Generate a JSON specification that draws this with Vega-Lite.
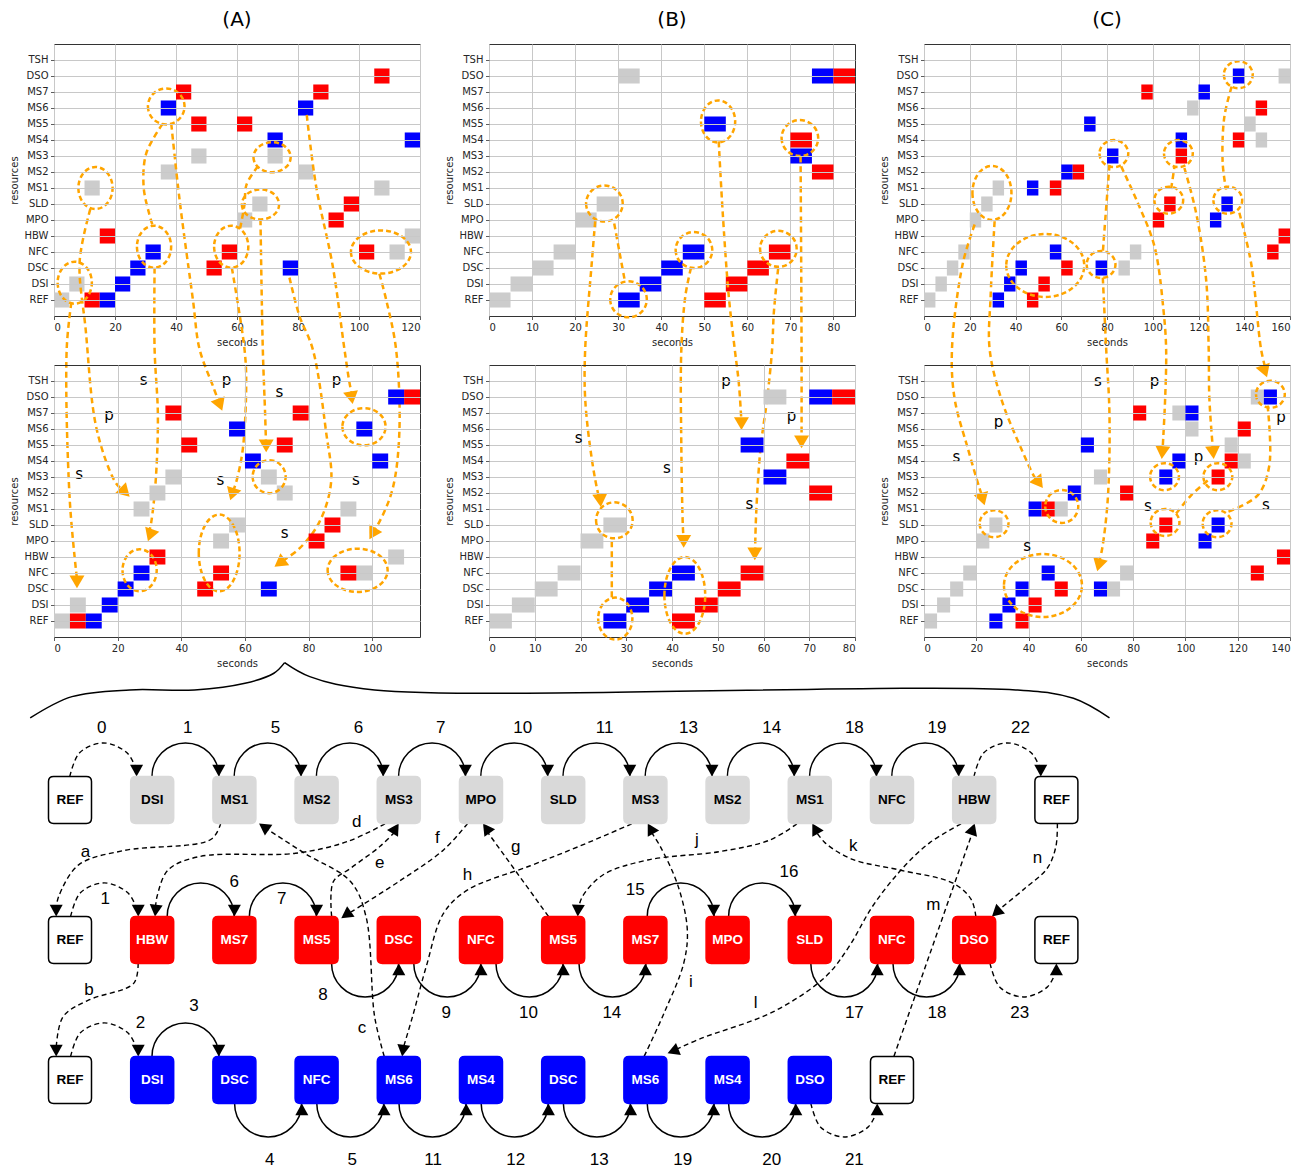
{
"$schema": "https://vega.github.io/schema/vega-lite/v6.json",
"padding": {"left": 8, "top": 9, "right": 5, "bottom": 0},
"background": "white",
"bounds": "flush",
"columns": 3,
"spacing": {"row": 49, "column": 69},
"resolve": {"scale": {"color": "independent", "x": "independent", "y": "independent", "shape": "independent"}},
"config": {
  "view": {"stroke": "#333333", "strokeWidth": 1},
  "axis": {"domain": false, "tickColor": "#333333", "tickSize": 3.5, "tickWidth": 0.8, "labelFont": "DejaVu Sans", "labelFontSize": 10, "labelColor": "#262626", "labelPadding": 2.5, "titleFont": "DejaVu Sans", "titleFontSize": 10, "titleFontWeight": "normal", "titleColor": "#262626", "grid": true, "gridColor": "#c8c8c8", "gridWidth": 1},
  "axisY": {"titlePadding": 5},
  "axisX": {"titlePadding": 5},
  "title": {"font": "DejaVu Sans", "fontSize": 20, "fontWeight": "normal", "color": "#000000", "offset": 14}
},
"datasets": {
"sq": [
{"p":"A1","r":"REF","t0":0,"t1":5,"c":"g"},{"p":"A1","r":"DSI","t0":5,"t1":10,"c":"g"},{"p":"A1","r":"MS1","t0":10,"t1":15,"c":"g"},{"p":"A1","r":"MS2","t0":35,"t1":40,"c":"g"},{"p":"A1","r":"MS3","t0":45,"t1":50,"c":"g"},{"p":"A1","r":"MPO","t0":60,"t1":65,"c":"g"},{"p":"A1","r":"SLD","t0":65,"t1":70,"c":"g"},{"p":"A1","r":"MS3","t0":70,"t1":75,"c":"g"},{"p":"A1","r":"MS2","t0":80,"t1":85,"c":"g"},{"p":"A1","r":"MS1","t0":105,"t1":110,"c":"g"},{"p":"A1","r":"NFC","t0":110,"t1":115,"c":"g"},{"p":"A1","r":"HBW","t0":115,"t1":120,"c":"g"},
{"p":"A1","r":"REF","t0":10,"t1":15,"c":"r"},{"p":"A1","r":"HBW","t0":15,"t1":20,"c":"r"},{"p":"A1","r":"MS7","t0":40,"t1":45,"c":"r"},{"p":"A1","r":"MS5","t0":45,"t1":50,"c":"r"},{"p":"A1","r":"DSC","t0":50,"t1":55,"c":"r"},{"p":"A1","r":"NFC","t0":55,"t1":60,"c":"r"},{"p":"A1","r":"MS5","t0":60,"t1":65,"c":"r"},{"p":"A1","r":"MS7","t0":85,"t1":90,"c":"r"},{"p":"A1","r":"MPO","t0":90,"t1":95,"c":"r"},{"p":"A1","r":"SLD","t0":95,"t1":100,"c":"r"},{"p":"A1","r":"NFC","t0":100,"t1":105,"c":"r"},{"p":"A1","r":"DSO","t0":105,"t1":110,"c":"r"},
{"p":"A1","r":"REF","t0":15,"t1":20,"c":"b"},{"p":"A1","r":"DSI","t0":20,"t1":25,"c":"b"},{"p":"A1","r":"DSC","t0":25,"t1":30,"c":"b"},{"p":"A1","r":"NFC","t0":30,"t1":35,"c":"b"},{"p":"A1","r":"MS6","t0":35,"t1":40,"c":"b"},{"p":"A1","r":"MS4","t0":70,"t1":75,"c":"b"},{"p":"A1","r":"DSC","t0":75,"t1":80,"c":"b"},{"p":"A1","r":"MS6","t0":80,"t1":85,"c":"b"},{"p":"A1","r":"MS4","t0":115,"t1":120,"c":"b"},
{"p":"A2","r":"REF","t0":0,"t1":5,"c":"g"},{"p":"A2","r":"DSI","t0":5,"t1":10,"c":"g"},{"p":"A2","r":"MS1","t0":25,"t1":30,"c":"g"},{"p":"A2","r":"MS2","t0":30,"t1":35,"c":"g"},{"p":"A2","r":"MS3","t0":35,"t1":40,"c":"g"},{"p":"A2","r":"MPO","t0":50,"t1":55,"c":"g"},{"p":"A2","r":"SLD","t0":55,"t1":60,"c":"g"},{"p":"A2","r":"MS3","t0":65,"t1":70,"c":"g"},{"p":"A2","r":"MS2","t0":70,"t1":75,"c":"g"},{"p":"A2","r":"MS1","t0":90,"t1":95,"c":"g"},{"p":"A2","r":"NFC","t0":95,"t1":100,"c":"g"},{"p":"A2","r":"HBW","t0":105,"t1":110,"c":"g"},
{"p":"A2","r":"REF","t0":5,"t1":10,"c":"r"},{"p":"A2","r":"HBW","t0":30,"t1":35,"c":"r"},{"p":"A2","r":"MS7","t0":35,"t1":40,"c":"r"},{"p":"A2","r":"MS5","t0":40,"t1":45,"c":"r"},{"p":"A2","r":"DSC","t0":45,"t1":50,"c":"r"},{"p":"A2","r":"NFC","t0":50,"t1":55,"c":"r"},{"p":"A2","r":"MS5","t0":70,"t1":75,"c":"r"},{"p":"A2","r":"MS7","t0":75,"t1":80,"c":"r"},{"p":"A2","r":"MPO","t0":80,"t1":85,"c":"r"},{"p":"A2","r":"SLD","t0":85,"t1":90,"c":"r"},{"p":"A2","r":"NFC","t0":90,"t1":95,"c":"r"},{"p":"A2","r":"DSO","t0":110,"t1":115,"c":"r"},
{"p":"A2","r":"REF","t0":10,"t1":15,"c":"b"},{"p":"A2","r":"DSI","t0":15,"t1":20,"c":"b"},{"p":"A2","r":"DSC","t0":20,"t1":25,"c":"b"},{"p":"A2","r":"NFC","t0":25,"t1":30,"c":"b"},{"p":"A2","r":"MS6","t0":55,"t1":60,"c":"b"},{"p":"A2","r":"MS4","t0":60,"t1":65,"c":"b"},{"p":"A2","r":"DSC","t0":65,"t1":70,"c":"b"},{"p":"A2","r":"MS6","t0":95,"t1":100,"c":"b"},{"p":"A2","r":"MS4","t0":100,"t1":105,"c":"b"},{"p":"A2","r":"DSO","t0":105,"t1":110,"c":"b"},
{"p":"B1","r":"REF","t0":0,"t1":5,"c":"g"},{"p":"B1","r":"DSI","t0":5,"t1":10,"c":"g"},{"p":"B1","r":"DSC","t0":10,"t1":15,"c":"g"},{"p":"B1","r":"NFC","t0":15,"t1":20,"c":"g"},{"p":"B1","r":"MPO","t0":20,"t1":25,"c":"g"},{"p":"B1","r":"SLD","t0":25,"t1":30,"c":"g"},{"p":"B1","r":"DSO","t0":30,"t1":35,"c":"g"},
{"p":"B1","r":"REF","t0":30,"t1":35,"c":"b"},{"p":"B1","r":"DSI","t0":35,"t1":40,"c":"b"},{"p":"B1","r":"DSC","t0":40,"t1":45,"c":"b"},{"p":"B1","r":"NFC","t0":45,"t1":50,"c":"b"},{"p":"B1","r":"MS5","t0":50,"t1":55,"c":"b"},{"p":"B1","r":"MS3","t0":70,"t1":75,"c":"b"},{"p":"B1","r":"DSO","t0":75,"t1":80,"c":"b"},
{"p":"B1","r":"REF","t0":50,"t1":55,"c":"r"},{"p":"B1","r":"DSI","t0":55,"t1":60,"c":"r"},{"p":"B1","r":"DSC","t0":60,"t1":65,"c":"r"},{"p":"B1","r":"NFC","t0":65,"t1":70,"c":"r"},{"p":"B1","r":"MS4","t0":70,"t1":75,"c":"r"},{"p":"B1","r":"MS2","t0":75,"t1":80,"c":"r"},{"p":"B1","r":"DSO","t0":80,"t1":85,"c":"r"},
{"p":"B2","r":"REF","t0":0,"t1":5,"c":"g"},{"p":"B2","r":"DSI","t0":5,"t1":10,"c":"g"},{"p":"B2","r":"DSC","t0":10,"t1":15,"c":"g"},{"p":"B2","r":"NFC","t0":15,"t1":20,"c":"g"},{"p":"B2","r":"MPO","t0":20,"t1":25,"c":"g"},{"p":"B2","r":"SLD","t0":25,"t1":30,"c":"g"},{"p":"B2","r":"DSO","t0":60,"t1":65,"c":"g"},
{"p":"B2","r":"REF","t0":25,"t1":30,"c":"b"},{"p":"B2","r":"DSI","t0":30,"t1":35,"c":"b"},{"p":"B2","r":"DSC","t0":35,"t1":40,"c":"b"},{"p":"B2","r":"NFC","t0":40,"t1":45,"c":"b"},{"p":"B2","r":"MS5","t0":55,"t1":60,"c":"b"},{"p":"B2","r":"MS3","t0":60,"t1":65,"c":"b"},{"p":"B2","r":"DSO","t0":70,"t1":75,"c":"b"},
{"p":"B2","r":"REF","t0":40,"t1":45,"c":"r"},{"p":"B2","r":"DSI","t0":45,"t1":50,"c":"r"},{"p":"B2","r":"DSC","t0":50,"t1":55,"c":"r"},{"p":"B2","r":"NFC","t0":55,"t1":60,"c":"r"},{"p":"B2","r":"MS4","t0":65,"t1":70,"c":"r"},{"p":"B2","r":"MS2","t0":70,"t1":75,"c":"r"},{"p":"B2","r":"DSO","t0":75,"t1":80,"c":"r"},
{"p":"C1","r":"REF","t0":0,"t1":5,"c":"g"},{"p":"C1","r":"DSI","t0":5,"t1":10,"c":"g"},{"p":"C1","r":"DSC","t0":10,"t1":15,"c":"g"},{"p":"C1","r":"NFC","t0":15,"t1":20,"c":"g"},{"p":"C1","r":"MPO","t0":20,"t1":25,"c":"g"},{"p":"C1","r":"SLD","t0":25,"t1":30,"c":"g"},{"p":"C1","r":"MS1","t0":30,"t1":35,"c":"g"},{"p":"C1","r":"DSC","t0":85,"t1":90,"c":"g"},{"p":"C1","r":"NFC","t0":90,"t1":95,"c":"g"},{"p":"C1","r":"MS6","t0":115,"t1":120,"c":"g"},{"p":"C1","r":"MS5","t0":140,"t1":145,"c":"g"},{"p":"C1","r":"MS4","t0":145,"t1":150,"c":"g"},{"p":"C1","r":"DSO","t0":155,"t1":160,"c":"g"},
{"p":"C1","r":"REF","t0":30,"t1":35,"c":"b"},{"p":"C1","r":"DSI","t0":35,"t1":40,"c":"b"},{"p":"C1","r":"DSC","t0":40,"t1":45,"c":"b"},{"p":"C1","r":"MS1","t0":45,"t1":50,"c":"b"},{"p":"C1","r":"NFC","t0":55,"t1":60,"c":"b"},{"p":"C1","r":"MS2","t0":60,"t1":65,"c":"b"},{"p":"C1","r":"MS5","t0":70,"t1":75,"c":"b"},{"p":"C1","r":"DSC","t0":75,"t1":80,"c":"b"},{"p":"C1","r":"MS3","t0":80,"t1":85,"c":"b"},{"p":"C1","r":"MS4","t0":110,"t1":115,"c":"b"},{"p":"C1","r":"MS7","t0":120,"t1":125,"c":"b"},{"p":"C1","r":"MPO","t0":125,"t1":130,"c":"b"},{"p":"C1","r":"SLD","t0":130,"t1":135,"c":"b"},{"p":"C1","r":"DSO","t0":135,"t1":140,"c":"b"},
{"p":"C1","r":"REF","t0":45,"t1":50,"c":"r"},{"p":"C1","r":"DSI","t0":50,"t1":55,"c":"r"},{"p":"C1","r":"MS1","t0":55,"t1":60,"c":"r"},{"p":"C1","r":"DSC","t0":60,"t1":65,"c":"r"},{"p":"C1","r":"MS2","t0":65,"t1":70,"c":"r"},{"p":"C1","r":"MS7","t0":95,"t1":100,"c":"r"},{"p":"C1","r":"MPO","t0":100,"t1":105,"c":"r"},{"p":"C1","r":"SLD","t0":105,"t1":110,"c":"r"},{"p":"C1","r":"MS3","t0":110,"t1":115,"c":"r"},{"p":"C1","r":"MS4","t0":135,"t1":140,"c":"r"},{"p":"C1","r":"MS6","t0":145,"t1":150,"c":"r"},{"p":"C1","r":"NFC","t0":150,"t1":155,"c":"r"},{"p":"C1","r":"HBW","t0":155,"t1":160,"c":"r"},
{"p":"C2","r":"REF","t0":0,"t1":5,"c":"g"},{"p":"C2","r":"DSI","t0":5,"t1":10,"c":"g"},{"p":"C2","r":"DSC","t0":10,"t1":15,"c":"g"},{"p":"C2","r":"NFC","t0":15,"t1":20,"c":"g"},{"p":"C2","r":"MPO","t0":20,"t1":25,"c":"g"},{"p":"C2","r":"SLD","t0":25,"t1":30,"c":"g"},{"p":"C2","r":"MS1","t0":50,"t1":55,"c":"g"},{"p":"C2","r":"MS3","t0":65,"t1":70,"c":"g"},{"p":"C2","r":"DSC","t0":70,"t1":75,"c":"g"},{"p":"C2","r":"NFC","t0":75,"t1":80,"c":"g"},{"p":"C2","r":"MS7","t0":95,"t1":100,"c":"g"},{"p":"C2","r":"MS6","t0":100,"t1":105,"c":"g"},{"p":"C2","r":"MS5","t0":115,"t1":120,"c":"g"},{"p":"C2","r":"MS4","t0":120,"t1":125,"c":"g"},{"p":"C2","r":"DSO","t0":125,"t1":130,"c":"g"},
{"p":"C2","r":"REF","t0":25,"t1":30,"c":"b"},{"p":"C2","r":"DSI","t0":30,"t1":35,"c":"b"},{"p":"C2","r":"DSC","t0":35,"t1":40,"c":"b"},{"p":"C2","r":"MS1","t0":40,"t1":45,"c":"b"},{"p":"C2","r":"NFC","t0":45,"t1":50,"c":"b"},{"p":"C2","r":"MS2","t0":55,"t1":60,"c":"b"},{"p":"C2","r":"MS5","t0":60,"t1":65,"c":"b"},{"p":"C2","r":"DSC","t0":65,"t1":70,"c":"b"},{"p":"C2","r":"MS3","t0":90,"t1":95,"c":"b"},{"p":"C2","r":"MS4","t0":95,"t1":100,"c":"b"},{"p":"C2","r":"MS7","t0":100,"t1":105,"c":"b"},{"p":"C2","r":"MPO","t0":105,"t1":110,"c":"b"},{"p":"C2","r":"SLD","t0":110,"t1":115,"c":"b"},{"p":"C2","r":"DSO","t0":130,"t1":135,"c":"b"},
{"p":"C2","r":"REF","t0":35,"t1":40,"c":"r"},{"p":"C2","r":"DSI","t0":40,"t1":45,"c":"r"},{"p":"C2","r":"MS1","t0":45,"t1":50,"c":"r"},{"p":"C2","r":"DSC","t0":50,"t1":55,"c":"r"},{"p":"C2","r":"MS2","t0":75,"t1":80,"c":"r"},{"p":"C2","r":"MS7","t0":80,"t1":85,"c":"r"},{"p":"C2","r":"MPO","t0":85,"t1":90,"c":"r"},{"p":"C2","r":"SLD","t0":90,"t1":95,"c":"r"},{"p":"C2","r":"MS3","t0":110,"t1":115,"c":"r"},{"p":"C2","r":"MS4","t0":115,"t1":120,"c":"r"},{"p":"C2","r":"MS6","t0":120,"t1":125,"c":"r"},{"p":"C2","r":"NFC","t0":125,"t1":130,"c":"r"},{"p":"C2","r":"HBW","t0":135,"t1":140,"c":"r"}
],
"ell": [
{"p":"A1","x":6.8,"y":1.08,"k":"t"},{"p":"A1","x":13.6,"y":7.0,"k":"t"},{"p":"A1","x":36.8,"y":12.1,"k":"o"},{"p":"A1","x":32.8,"y":3.33,"k":"t"},{"p":"A1","x":58.1,"y":3.33,"k":"t"},{"p":"A1","x":67.7,"y":5.97,"k":"f"},{"p":"A1","x":71.5,"y":8.92,"k":"f"},{"p":"A1","x":107.2,"y":3.0,"k":"w"},
{"p":"A2","x":26.9,"y":3.17,"k":"t"},{"p":"A2","x":51.9,"y":4.25,"k":"T"},{"p":"A2","x":67.6,"y":9.02,"k":"s"},{"p":"A2","x":97.4,"y":12.14,"k":"O"},{"p":"A2","x":95.4,"y":3.17,"k":"w"},
{"p":"B1","x":26.8,"y":6.03,"k":"o"},{"p":"B1","x":32.4,"y":0.04,"k":"o"},{"p":"B1","x":47.6,"y":3.12,"k":"o"},{"p":"B1","x":53.2,"y":11.16,"k":"t"},{"p":"B1","x":67.2,"y":3.2,"k":"o"},{"p":"B1","x":72.2,"y":10.12,"k":"o"},
{"p":"B2","x":27.4,"y":6.29,"k":"o"},{"p":"B2","x":27.6,"y":0.15,"k":"t"},{"p":"B2","x":42.8,"y":1.6,"k":"T"},
{"p":"C1","x":29.7,"y":6.69,"k":"m"},{"p":"C1","x":53.0,"y":2.16,"k":"B"},{"p":"C1","x":77.4,"y":2.22,"k":"c"},{"p":"C1","x":83.0,"y":9.15,"k":"c"},{"p":"C1","x":111.2,"y":9.15,"k":"c"},{"p":"C1","x":107.0,"y":6.24,"k":"c"},{"p":"C1","x":132.8,"y":6.24,"k":"c"},{"p":"C1","x":137.4,"y":14.08,"k":"c"},
{"p":"C2","x":26.8,"y":6.08,"k":"c"},{"p":"C2","x":52.7,"y":7.16,"k":"s"},{"p":"C2","x":45.5,"y":2.22,"k":"B"},{"p":"C2","x":92.0,"y":9.02,"k":"c"},{"p":"C2","x":112.4,"y":9.02,"k":"c"},{"p":"C2","x":92.2,"y":6.16,"k":"c"},{"p":"C2","x":112.1,"y":6.08,"k":"c"},{"p":"C2","x":132.5,"y":14.17,"k":"c"}
],
"lab": [
{"p":"A2","x":28.2,"y":15.04,"t":"s"},{"p":"A2","x":54.2,"y":15.04,"t":"p"},{"p":"A2","x":70.8,"y":14.3,"t":"s"},{"p":"A2","x":88.8,"y":15.04,"t":"p"},{"p":"A2","x":17.3,"y":12.86,"t":"p"},{"p":"A2","x":7.9,"y":9.19,"t":"s"},{"p":"A2","x":52.3,"y":8.82,"t":"s"},{"p":"A2","x":94.9,"y":8.82,"t":"s"},{"p":"A2","x":72.5,"y":5.5,"t":"s"},
{"p":"B2","x":19.6,"y":11.41,"t":"s"},{"p":"B2","x":38.9,"y":9.54,"t":"s"},{"p":"B2","x":51.8,"y":15.0,"t":"p"},{"p":"B2","x":66.1,"y":12.8,"t":"p"},{"p":"B2","x":56.9,"y":7.32,"t":"s"},
{"p":"C2","x":66.5,"y":15.0,"t":"s"},{"p":"C2","x":88.2,"y":15.0,"t":"p"},{"p":"C2","x":28.5,"y":12.45,"t":"p"},{"p":"C2","x":12.4,"y":10.27,"t":"s"},{"p":"C2","x":105.0,"y":10.23,"t":"p"},{"p":"C2","x":136.6,"y":12.76,"t":"p"},{"p":"C2","x":85.6,"y":7.2,"t":"s"},{"p":"C2","x":130.8,"y":7.26,"t":"s"},{"p":"C2","x":39.5,"y":4.71,"t":"s"}
],
"ol": [
{"p":"A1","id":"L1","o":1,"x":5.70,"y":-0.14},{"p":"A1","id":"L1","o":2,"x":4.16,"y":-3.07},{"p":"A1","id":"L1","o":3,"x":5.14,"y":-12.42},{"p":"A1","id":"L1","o":4,"x":7.44,"y":-17.28},
{"p":"A1","id":"L2","o":1,"x":11.92,"y":5.69},{"p":"A1","id":"L2","o":2,"x":8.42,"y":2.41},{"p":"A1","id":"L2","o":3,"x":10.38,"y":-1.83},{"p":"A1","id":"L2","o":4,"x":13.99,"y":-8.08},{"p":"A1","id":"L2","o":5,"x":20.21,"y":-11.42},{"p":"A1","id":"L2","o":6,"x":22.7,"y":-11.9},
{"p":"A1","id":"L3","o":1,"x":32.98,"y":2.02},{"p":"A1","id":"L3","o":2,"x":32.98,"y":-3.07},{"p":"A1","id":"L3","o":3,"x":34.06,"y":-7.23},{"p":"A1","id":"L3","o":4,"x":33.31,"y":-11.38},{"p":"A1","id":"L3","o":5,"x":31.9,"y":-13.87},{"p":"A1","id":"L3","o":6,"x":31.2,"y":-14.5},
{"p":"A1","id":"L4","o":1,"x":38.45,"y":11.01},{"p":"A1","id":"L4","o":2,"x":41.17,"y":6.27},{"p":"A1","id":"L4","o":3,"x":45.53,"y":0.04},{"p":"A1","id":"L4","o":4,"x":47.72,"y":-3.07},{"p":"A1","id":"L4","o":5,"x":52.08,"y":-5.36},{"p":"A1","id":"L4","o":6,"x":54.1,"y":-6.4},
{"p":"A1","id":"L5","o":1,"x":58.3,"y":2.02},{"p":"A1","id":"L5","o":2,"x":62.46,"y":-3.07},{"p":"A1","id":"L5","o":3,"x":63.02,"y":-5.15},{"p":"A1","id":"L5","o":4,"x":61.91,"y":-9.3},{"p":"A1","id":"L5","o":5,"x":59.74,"y":-11.38},{"p":"A1","id":"L5","o":6,"x":58.6,"y":-12.0},
{"p":"A1","id":"L6","o":1,"x":67.7,"y":5.03},{"p":"A1","id":"L6","o":2,"x":68.46,"y":-3.07},{"p":"A1","id":"L6","o":3,"x":69.24,"y":-7.23},{"p":"A1","id":"L6","o":4,"x":69.5,"y":-8.95},
{"p":"A1","id":"L7","o":1,"x":77.2,"y":1.4},{"p":"A1","id":"L7","o":2,"x":80.48,"y":-1.0},{"p":"A1","id":"L7","o":3,"x":84.83,"y":-3.07},{"p":"A1","id":"L7","o":4,"x":89.22,"y":-8.26},{"p":"A1","id":"L7","o":5,"x":90.86,"y":-11.38},{"p":"A1","id":"L7","o":6,"x":87.03,"y":-13.87},{"p":"A1","id":"L7","o":7,"x":80.48,"y":-15.53},{"p":"A1","id":"L7","o":8,"x":74.5,"y":-16.35},
{"p":"A1","id":"L8","o":1,"x":82.87,"y":11.57},{"p":"A1","id":"L8","o":2,"x":85.95,"y":7.1},{"p":"A1","id":"L8","o":3,"x":91.39,"y":2.12},{"p":"A1","id":"L8","o":4,"x":95.22,"y":-3.07},{"p":"A1","id":"L8","o":5,"x":96.86,"y":-5.15},{"p":"A1","id":"L8","o":6,"x":97.7,"y":-5.95},
{"p":"A1","id":"L9","o":1,"x":106.68,"y":1.64},{"p":"A1","id":"L9","o":2,"x":108.88,"y":0.04},{"p":"A1","id":"L9","o":3,"x":112.15,"y":-3.07},{"p":"A1","id":"L9","o":4,"x":113.23,"y":-8.26},{"p":"A1","id":"L9","o":5,"x":111.04,"y":-11.79},{"p":"A1","id":"L9","o":6,"x":106.68,"y":-13.87},{"p":"A1","id":"L9","o":7,"x":104.5,"y":-14.5},
{"p":"A1","id":"C1","o":1,"x":35.6,"y":11.01},{"p":"A1","id":"C1","o":2,"x":30.27,"y":9.18},{"p":"A1","id":"C1","o":3,"x":29.38,"y":7.1},{"p":"A1","id":"C1","o":4,"x":31.12,"y":5.45},{"p":"A1","id":"C1","o":5,"x":32.43,"y":4.61},
{"p":"A1","id":"C2","o":1,"x":66.82,"y":8.35},{"p":"A1","id":"C2","o":2,"x":63.12,"y":7.21},{"p":"A1","id":"C2","o":3,"x":62.46,"y":5.96},{"p":"A1","id":"C2","o":4,"x":60.82,"y":4.28},
{"p":"B1","id":"LB1","o":1,"x":24.66,"y":4.92},{"p":"B1","id":"LB1","o":2,"x":23.87,"y":2.33},{"p":"B1","id":"LB1","o":3,"x":22.34,"y":-3.07},{"p":"B1","id":"LB1","o":4,"x":22.34,"y":-6.19},{"p":"B1","id":"LB1","o":5,"x":23.87,"y":-9.93},{"p":"B1","id":"LB1","o":6,"x":25.43,"y":-12.21},{"p":"B1","id":"LB1","o":7,"x":25.8,"y":-12.5},
{"p":"B1","id":"LB2","o":1,"x":46.91,"y":2.02},{"p":"B1","id":"LB2","o":2,"x":45.6,"y":0.25},{"p":"B1","id":"LB2","o":3,"x":44.67,"y":-3.07},{"p":"B1","id":"LB2","o":4,"x":44.67,"y":-9.3},{"p":"B1","id":"LB2","o":5,"x":45.04,"y":-14.29},{"p":"B1","id":"LB2","o":6,"x":45.2,"y":-14.9},
{"p":"B1","id":"LB3","o":1,"x":53.35,"y":9.91},{"p":"B1","id":"LB3","o":2,"x":54.28,"y":5.45},{"p":"B1","id":"LB3","o":3,"x":55.68,"y":0.25},{"p":"B1","id":"LB3","o":4,"x":57.07,"y":-3.07},{"p":"B1","id":"LB3","o":5,"x":58.0,"y":-5.15},{"p":"B1","id":"LB3","o":6,"x":58.54,"y":-7.23},{"p":"B1","id":"LB3","o":7,"x":58.6,"y":-7.55},
{"p":"B1","id":"LB4","o":1,"x":67.15,"y":1.96},{"p":"B1","id":"LB4","o":2,"x":66.15,"y":-0.79},{"p":"B1","id":"LB4","o":3,"x":65.75,"y":-3.07},{"p":"B1","id":"LB4","o":4,"x":64.59,"y":-6.19},{"p":"B1","id":"LB4","o":5,"x":63.05,"y":-9.3},{"p":"B1","id":"LB4","o":6,"x":62.03,"y":-13.46},{"p":"B1","id":"LB4","o":7,"x":61.8,"y":-15.7},
{"p":"B1","id":"LB5","o":1,"x":72.36,"y":8.97},{"p":"B1","id":"LB5","o":2,"x":72.59,"y":-3.07},{"p":"B1","id":"LB5","o":3,"x":72.59,"y":-8.7},
{"p":"B1","id":"CB1","o":1,"x":29.08,"y":4.78},{"p":"B1","id":"CB1","o":2,"x":30.48,"y":2.74},{"p":"B1","id":"CB1","o":3,"x":31.48,"y":1.29},
{"p":"B1","id":"CB2","o":1,"x":28.52,"y":-15.08},{"p":"B1","id":"CB2","o":2,"x":28.52,"y":-18.65},
{"p":"C1","id":"LC1","o":1,"x":22.14,"y":4.72},{"p":"C1","id":"LC1","o":2,"x":17.03,"y":2.33},{"p":"C1","id":"LC1","o":3,"x":12.23,"y":-3.07},{"p":"C1","id":"LC1","o":4,"x":13.41,"y":-6.19},{"p":"C1","id":"LC1","o":5,"x":19.21,"y":-9.3},{"p":"C1","id":"LC1","o":6,"x":24.32,"y":-11.79},{"p":"C1","id":"LC1","o":7,"x":25.7,"y":-12.35},
{"p":"C1","id":"LC2","o":1,"x":30.87,"y":4.92},{"p":"C1","id":"LC2","o":2,"x":29.13,"y":0.25},{"p":"C1","id":"LC2","o":3,"x":28.69,"y":-3.07},{"p":"C1","id":"LC2","o":4,"x":33.8,"y":-6.19},{"p":"C1","id":"LC2","o":5,"x":42.53,"y":-9.3},{"p":"C1","id":"LC2","o":6,"x":48.34,"y":-11.07},{"p":"C1","id":"LC2","o":7,"x":49.6,"y":-11.3},
{"p":"C1","id":"LC3","o":1,"x":78.17,"y":1.4},{"p":"C1","id":"LC3","o":2,"x":79.65,"y":-3.07},{"p":"C1","id":"LC3","o":3,"x":81.09,"y":-7.23},{"p":"C1","id":"LC3","o":4,"x":80.35,"y":-12.42},{"p":"C1","id":"LC3","o":5,"x":77.9,"y":-15.53},{"p":"C1","id":"LC3","o":6,"x":76.5,"y":-16.4},
{"p":"C1","id":"LC4","o":1,"x":86.2,"y":8.35},{"p":"C1","id":"LC4","o":2,"x":93.45,"y":6.07},{"p":"C1","id":"LC4","o":3,"x":100.74,"y":3.36},{"p":"C1","id":"LC4","o":4,"x":104.8,"y":-0.79},{"p":"C1","id":"LC4","o":5,"x":105.85,"y":-3.07},{"p":"C1","id":"LC4","o":6,"x":105.41,"y":-6.19},{"p":"C1","id":"LC4","o":7,"x":104.3,"y":-9.35},
{"p":"C1","id":"LC5","o":1,"x":113.84,"y":8.25},{"p":"C1","id":"LC5","o":2,"x":118.95,"y":5.45},{"p":"C1","id":"LC5","o":3,"x":123.32,"y":1.29},{"p":"C1","id":"LC5","o":4,"x":124.45,"y":-3.07},{"p":"C1","id":"LC5","o":5,"x":124.76,"y":-6.19},{"p":"C1","id":"LC5","o":6,"x":126.3,"y":-9.35},
{"p":"C1","id":"LC6","o":1,"x":137.86,"y":5.45},{"p":"C1","id":"LC6","o":2,"x":142.97,"y":2.33},{"p":"C1","id":"LC6","o":3,"x":147.34,"y":-3.07},{"p":"C1","id":"LC6","o":4,"x":149.3,"y":-4.3},
{"p":"C1","id":"CC1","o":1,"x":81.09,"y":8.45},{"p":"C1","id":"CC1","o":2,"x":78.91,"y":4.4},{"p":"C1","id":"CC1","o":3,"x":78.17,"y":2.95},
{"p":"C1","id":"CC2","o":1,"x":108.03,"y":6.94},{"p":"C1","id":"CC2","o":2,"x":109.48,"y":8.31},
{"p":"C1","id":"CC3","o":1,"x":134.5,"y":13.33},{"p":"C1","id":"CC3","o":2,"x":131.31,"y":11.46},{"p":"C1","id":"CC3","o":3,"x":130.57,"y":8.56},{"p":"C1","id":"CC3","o":4,"x":132.05,"y":6.9},
{"p":"C1","id":"CC4","o":1,"x":150.22,"y":-6.6},{"p":"C1","id":"CC4","o":2,"x":150.96,"y":-10.34},{"p":"C1","id":"CC4","o":3,"x":145.85,"y":-12.21},{"p":"C1","id":"CC4","o":4,"x":132.75,"y":-13.25},
{"p":"C1","id":"CC5","o":1,"x":124.02,"y":-11.28},{"p":"C1","id":"CC5","o":2,"x":116.77,"y":-12.21},{"p":"C1","id":"CC5","o":3,"x":110.22,"y":-13.35}
],
"oh": [
{"p":"A1","x":7.53,"y":-18.02,"a":180},{"p":"A1","x":24.8,"y":-12.29,"a":135},{"p":"A1","x":30.79,"y":-15.08,"a":200},{"p":"A1","x":55.16,"y":-6.92,"a":159},{"p":"A1","x":57.78,"y":-12.52,"a":198},{"p":"A1","x":69.57,"y":-9.51,"a":180},{"p":"A1","x":72.29,"y":-16.67,"a":234},{"p":"A1","x":97.94,"y":-6.5,"a":170},{"p":"A1","x":103.41,"y":-14.95,"a":210},
{"p":"B1","x":25.97,"y":-12.93,"a":175},{"p":"B1","x":45.21,"y":-15.49,"a":180},{"p":"B1","x":58.63,"y":-8.12,"a":180},{"p":"B1","x":61.73,"y":-16.26,"a":180},{"p":"B1","x":72.59,"y":-9.26,"a":180},
{"p":"C1","x":26.51,"y":-12.83,"a":163},{"p":"C1","x":51.97,"y":-11.75,"a":143},{"p":"C1","x":75.72,"y":-16.95,"a":195},{"p":"C1","x":103.93,"y":-9.93,"a":185},{"p":"C1","x":126.64,"y":-9.93,"a":175},{"p":"C1","x":149.96,"y":-4.83,"a":160}
],
"nodes": [
{"x":0,"y":0,"t":"w","n":"REF"},{"x":1,"y":0,"t":"g","n":"DSI"},{"x":2,"y":0,"t":"g","n":"MS1"},{"x":3,"y":0,"t":"g","n":"MS2"},{"x":4,"y":0,"t":"g","n":"MS3"},{"x":5,"y":0,"t":"g","n":"MPO"},{"x":6,"y":0,"t":"g","n":"SLD"},{"x":7,"y":0,"t":"g","n":"MS3"},{"x":8,"y":0,"t":"g","n":"MS2"},{"x":9,"y":0,"t":"g","n":"MS1"},{"x":10,"y":0,"t":"g","n":"NFC"},{"x":11,"y":0,"t":"g","n":"HBW"},{"x":12,"y":0,"t":"w","n":"REF"},
{"x":0,"y":1,"t":"w","n":"REF"},{"x":1,"y":1,"t":"r","n":"HBW"},{"x":2,"y":1,"t":"r","n":"MS7"},{"x":3,"y":1,"t":"r","n":"MS5"},{"x":4,"y":1,"t":"r","n":"DSC"},{"x":5,"y":1,"t":"r","n":"NFC"},{"x":6,"y":1,"t":"r","n":"MS5"},{"x":7,"y":1,"t":"r","n":"MS7"},{"x":8,"y":1,"t":"r","n":"MPO"},{"x":9,"y":1,"t":"r","n":"SLD"},{"x":10,"y":1,"t":"r","n":"NFC"},{"x":11,"y":1,"t":"r","n":"DSO"},{"x":12,"y":1,"t":"w","n":"REF"},
{"x":0,"y":2,"t":"w","n":"REF"},{"x":1,"y":2,"t":"b","n":"DSI"},{"x":2,"y":2,"t":"b","n":"DSC"},{"x":3,"y":2,"t":"b","n":"NFC"},{"x":4,"y":2,"t":"b","n":"MS6"},{"x":5,"y":2,"t":"b","n":"MS4"},{"x":6,"y":2,"t":"b","n":"DSC"},{"x":7,"y":2,"t":"b","n":"MS6"},{"x":8,"y":2,"t":"b","n":"MS4"},{"x":9,"y":2,"t":"b","n":"DSO"},{"x":10,"y":2,"t":"w","n":"REF"}
],
"arcs": [
{"x":1.405,"y":-0.168,"s":"u"},{"x":2.405,"y":-0.168,"s":"u"},{"x":3.405,"y":-0.168,"s":"u"},{"x":4.405,"y":-0.168,"s":"u"},{"x":5.405,"y":-0.168,"s":"u"},{"x":6.405,"y":-0.168,"s":"u"},{"x":7.405,"y":-0.168,"s":"u"},{"x":8.405,"y":-0.168,"s":"u"},{"x":9.405,"y":-0.168,"s":"u"},{"x":10.405,"y":-0.168,"s":"u"},
{"x":1.59,"y":0.832,"s":"u"},{"x":2.59,"y":0.832,"s":"u"},{"x":3.59,"y":1.168,"s":"n"},{"x":4.59,"y":1.168,"s":"n"},{"x":5.59,"y":1.168,"s":"n"},{"x":6.6,"y":1.168,"s":"n"},{"x":7.43,"y":0.832,"s":"u"},{"x":8.42,"y":0.832,"s":"u"},{"x":9.42,"y":1.168,"s":"n"},{"x":10.42,"y":1.168,"s":"n"},
{"x":1.405,"y":1.832,"s":"u"},{"x":2.41,"y":2.168,"s":"n"},{"x":3.41,"y":2.168,"s":"n"},{"x":4.41,"y":2.168,"s":"n"},{"x":5.41,"y":2.168,"s":"n"},{"x":6.41,"y":2.168,"s":"n"},{"x":7.43,"y":2.168,"s":"n"},{"x":8.42,"y":2.168,"s":"n"}
],
"heads": [
{"x":0.81,"y":-0.168,"a":180},{"x":1.81,"y":-0.168,"a":180},{"x":2.81,"y":-0.168,"a":180},{"x":3.81,"y":-0.168,"a":180},{"x":4.81,"y":-0.168,"a":180},{"x":5.81,"y":-0.168,"a":180},{"x":6.81,"y":-0.168,"a":180},{"x":7.81,"y":-0.168,"a":180},{"x":8.81,"y":-0.168,"a":180},{"x":9.81,"y":-0.168,"a":180},{"x":10.81,"y":-0.168,"a":180},{"x":11.81,"y":-0.168,"a":180},
{"x":0.83,"y":0.832,"a":180},{"x":2.0,"y":0.832,"a":180},{"x":3.0,"y":0.832,"a":180},{"x":4.0,"y":1.168,"a":0},{"x":5.0,"y":1.168,"a":0},{"x":6.0,"y":1.168,"a":0},{"x":7.0,"y":1.168,"a":0},{"x":7.83,"y":0.832,"a":180},{"x":8.82,"y":0.832,"a":180},{"x":9.82,"y":1.168,"a":0},{"x":10.82,"y":1.168,"a":0},{"x":12.0,"y":1.168,"a":0},
{"x":0.83,"y":1.832,"a":180},{"x":1.81,"y":1.832,"a":180},{"x":2.82,"y":2.168,"a":0},{"x":3.82,"y":2.168,"a":0},{"x":4.82,"y":2.168,"a":0},{"x":5.82,"y":2.168,"a":0},{"x":6.82,"y":2.168,"a":0},{"x":7.83,"y":2.168,"a":0},{"x":8.83,"y":2.168,"a":0},{"x":9.82,"y":2.168,"a":0},
{"x":-0.168,"y":0.832,"a":180},{"x":-0.168,"y":1.832,"a":180},{"x":2.3,"y":0.168,"a":-55},{"x":1.034,"y":0.832,"a":186},{"x":3.999,"y":0.168,"a":32},{"x":3.3,"y":0.845,"a":-125},{"x":5.025,"y":0.168,"a":-35},{"x":4.041,"y":1.832,"a":188},{"x":7.029,"y":0.168,"a":-29},{"x":6.177,"y":0.832,"a":183},{"x":9.031,"y":0.168,"a":-29},{"x":7.27,"y":1.81,"a":-112},{"x":11.006,"y":0.168,"a":19},{"x":11.216,"y":0.832,"a":-132}
],
"elab": [
{"x":0.385,"y":-0.512,"t":"0"},{"x":1.432,"y":-0.512,"t":"1"},{"x":2.5,"y":-0.512,"t":"5"},{"x":3.509,"y":-0.512,"t":"6"},{"x":4.51,"y":-0.512,"t":"7"},{"x":5.507,"y":-0.512,"t":"10"},{"x":6.505,"y":-0.512,"t":"11"},{"x":7.523,"y":-0.512,"t":"13"},{"x":8.537,"y":-0.512,"t":"14"},{"x":9.542,"y":-0.512,"t":"18"},{"x":10.547,"y":-0.512,"t":"19"},{"x":11.562,"y":-0.512,"t":"22"},
{"x":0.43,"y":0.707,"t":"1"},{"x":1.997,"y":0.583,"t":"6"},{"x":2.575,"y":0.707,"t":"7"},{"x":3.078,"y":1.393,"t":"8"},{"x":4.577,"y":1.524,"t":"9"},{"x":5.578,"y":1.524,"t":"10"},{"x":6.592,"y":1.524,"t":"14"},{"x":6.876,"y":0.643,"t":"15"},{"x":8.747,"y":0.517,"t":"16"},{"x":9.542,"y":1.524,"t":"17"},{"x":10.547,"y":1.524,"t":"18"},{"x":11.553,"y":1.524,"t":"23"},
{"x":0.858,"y":1.59,"t":"2"},{"x":1.508,"y":1.471,"t":"3"},{"x":2.429,"y":2.571,"t":"4"},{"x":3.434,"y":2.571,"t":"5"},{"x":4.418,"y":2.571,"t":"11"},{"x":5.423,"y":2.571,"t":"12"},{"x":6.439,"y":2.571,"t":"13"},{"x":7.453,"y":2.571,"t":"19"},{"x":8.537,"y":2.571,"t":"20"},{"x":9.542,"y":2.571,"t":"21"},
{"x":0.188,"y":0.369,"t":"a"},{"x":0.23,"y":1.357,"t":"b"},{"x":3.551,"y":1.631,"t":"c"},{"x":3.488,"y":0.155,"t":"d"},{"x":3.769,"y":0.452,"t":"e"},{"x":4.468,"y":0.274,"t":"f"},{"x":5.423,"y":0.333,"t":"g"},{"x":4.837,"y":0.536,"t":"h"},{"x":7.554,"y":1.298,"t":"i"},{"x":7.628,"y":0.286,"t":"j"},{"x":9.529,"y":0.326,"t":"k"},{"x":8.34,"y":1.452,"t":"l"},{"x":10.504,"y":0.75,"t":"m"},{"x":11.77,"y":0.417,"t":"n"}
],
"xe": [
{"id":"a","o":1,"x":1.834,"y":0.167},{"id":"a","o":2,"x":1.717,"y":0.281},{"id":"a","o":3,"x":0.649,"y":0.362},{"id":"a","o":4,"x":0.105,"y":0.464},{"id":"a","o":5,"x":-0.138,"y":0.69},{"id":"a","o":6,"x":-0.168,"y":0.774},
{"id":"b","o":1,"x":0.829,"y":1.167},{"id":"b","o":2,"x":0.775,"y":1.31},{"id":"b","o":3,"x":0.23,"y":1.429},{"id":"b","o":4,"x":-0.084,"y":1.548},{"id":"b","o":5,"x":-0.168,"y":1.77},
{"id":"c","o":1,"x":3.823,"y":1.832},{"id":"c","o":2,"x":3.706,"y":1.548},{"id":"c","o":3,"x":3.601,"y":0.833},{"id":"c","o":4,"x":3.413,"y":0.583},{"id":"c","o":5,"x":2.869,"y":0.386},{"id":"c","o":6,"x":2.4,"y":0.21},
{"id":"d","o":1,"x":3.832,"y":0.171},{"id":"d","o":2,"x":3.371,"y":0.298},{"id":"d","o":3,"x":2.743,"y":0.381},{"id":"d","o":4,"x":1.57,"y":0.405},{"id":"d","o":5,"x":1.194,"y":0.5},{"id":"d","o":6,"x":1.059,"y":0.69},{"id":"d","o":7,"x":1.04,"y":0.77},
{"id":"e","o":1,"x":3.183,"y":0.832},{"id":"e","o":2,"x":3.204,"y":0.583},{"id":"e","o":3,"x":3.413,"y":0.488},{"id":"e","o":4,"x":3.769,"y":0.333},{"id":"e","o":5,"x":3.95,"y":0.23},
{"id":"f","o":1,"x":4.837,"y":0.168},{"id":"f","o":2,"x":4.544,"y":0.357},{"id":"f","o":3,"x":4.0,"y":0.583},{"id":"f","o":4,"x":3.42,"y":0.8},
{"id":"g","o":1,"x":5.821,"y":0.832},{"id":"g","o":2,"x":5.08,"y":0.23},
{"id":"h","o":1,"x":6.833,"y":0.171},{"id":"h","o":2,"x":6.2,"y":0.33},{"id":"h","o":3,"x":5.6,"y":0.47},{"id":"h","o":4,"x":4.837,"y":0.643},{"id":"h","o":5,"x":4.544,"y":0.81},{"id":"h","o":6,"x":4.334,"y":1.19},{"id":"h","o":7,"x":4.167,"y":1.548},{"id":"h","o":8,"x":4.055,"y":1.77},
{"id":"i","o":1,"x":6.985,"y":1.832},{"id":"i","o":2,"x":7.226,"y":1.524},{"id":"i","o":3,"x":7.466,"y":1.167},{"id":"i","o":4,"x":7.51,"y":0.929},{"id":"i","o":5,"x":7.4,"y":0.619},{"id":"i","o":6,"x":7.182,"y":0.333},{"id":"i","o":7,"x":7.06,"y":0.22},
{"id":"j","o":1,"x":8.843,"y":0.171},{"id":"j","o":2,"x":8.515,"y":0.286},{"id":"j","o":3,"x":7.903,"y":0.369},{"id":"j","o":4,"x":7.029,"y":0.429},{"id":"j","o":5,"x":6.483,"y":0.536},{"id":"j","o":6,"x":6.234,"y":0.69},{"id":"j","o":7,"x":6.185,"y":0.775},
{"id":"k","o":1,"x":11.02,"y":0.832},{"id":"k","o":2,"x":10.963,"y":0.71},{"id":"k","o":3,"x":10.744,"y":0.595},{"id":"k","o":4,"x":10.089,"y":0.5},{"id":"k","o":5,"x":9.52,"y":0.424},{"id":"k","o":6,"x":9.193,"y":0.31},{"id":"k","o":7,"x":9.07,"y":0.22},
{"id":"l","o":1,"x":10.84,"y":0.171},{"id":"l","o":2,"x":10.46,"y":0.305},{"id":"l","o":3,"x":10.11,"y":0.5},{"id":"l","o":4,"x":9.761,"y":0.762},{"id":"l","o":5,"x":9.477,"y":1.048},{"id":"l","o":6,"x":9.193,"y":1.262},{"id":"l","o":7,"x":8.559,"y":1.512},{"id":"l","o":8,"x":7.685,"y":1.702},{"id":"l","o":9,"x":7.38,"y":1.78},
{"id":"m","o":1,"x":10.023,"y":1.832},{"id":"m","o":2,"x":10.98,"y":0.23},
{"id":"n","o":1,"x":12.012,"y":0.168},{"id":"n","o":2,"x":11.994,"y":0.333},{"id":"n","o":3,"x":11.889,"y":0.488},{"id":"n","o":4,"x":11.618,"y":0.631},{"id":"n","o":5,"x":11.3,"y":0.785},
{"id":"d1","o":1,"x":-0.0025,"y":-0.168},{"id":"d1","o":2,"x":0.1169,"y":-0.3372},{"id":"d1","o":3,"x":0.405,"y":-0.4073},{"id":"d1","o":4,"x":0.6931,"y":-0.3372},{"id":"d1","o":5,"x":0.8125,"y":-0.21},
{"id":"d2","o":1,"x":10.9975,"y":-0.168},{"id":"d2","o":2,"x":11.1169,"y":-0.3372},{"id":"d2","o":3,"x":11.405,"y":-0.4073},{"id":"d2","o":4,"x":11.6931,"y":-0.3372},{"id":"d2","o":5,"x":11.8125,"y":-0.21},
{"id":"d3","o":1,"x":0.0075,"y":0.832},{"id":"d3","o":2,"x":0.1269,"y":0.6628},{"id":"d3","o":3,"x":0.415,"y":0.5927},{"id":"d3","o":4,"x":0.7031,"y":0.6628},{"id":"d3","o":5,"x":0.8225,"y":0.79},
{"id":"d4","o":1,"x":11.1925,"y":1.168},{"id":"d4","o":2,"x":11.3119,"y":1.3372},{"id":"d4","o":3,"x":11.6,"y":1.4073},{"id":"d4","o":4,"x":11.8881,"y":1.3372},{"id":"d4","o":5,"x":12.0075,"y":1.21},
{"id":"d5","o":1,"x":0.0075,"y":1.832},{"id":"d5","o":2,"x":0.1269,"y":1.6628},{"id":"d5","o":3,"x":0.415,"y":1.5927},{"id":"d5","o":4,"x":0.7031,"y":1.6628},{"id":"d5","o":5,"x":0.8225,"y":1.79},
{"id":"d6","o":1,"x":9.0125,"y":2.168},{"id":"d6","o":2,"x":9.1319,"y":2.3372},{"id":"d6","o":3,"x":9.42,"y":2.4073},{"id":"d6","o":4,"x":9.7081,"y":2.3372},{"id":"d6","o":5,"x":9.8275,"y":2.21}
],
"brace": [
{"id":"L","o":1,"x":-0.484,"y":-0.586},{"id":"L","o":2,"x":0.024,"y":-0.738},{"id":"L","o":3,"x":0.726,"y":-0.786},{"id":"L","o":4,"x":1.515,"y":-0.786},{"id":"L","o":5,"x":2.129,"y":-0.833},{"id":"L","o":6,"x":2.48,"y":-0.905},{"id":"L","o":7,"x":2.611,"y":-0.981},
{"id":"R","o":1,"x":2.611,"y":-0.981},{"id":"R","o":2,"x":2.917,"y":-0.881},{"id":"R","o":3,"x":3.706,"y":-0.786},{"id":"R","o":4,"x":11.507,"y":-0.786},{"id":"R","o":5,"x":12.208,"y":-0.726},{"id":"R","o":6,"x":12.646,"y":-0.586}
]
},
"concat": [
{"width": 366, "height": 272, "title": "(A)", "resolve": {"scale": {"y": "independent"}}, "layer": [
 {"data": {"name": "sq"}, "transform": [{"filter": "datum.p == 'A1'"}], "mark": {"type": "rect"},
  "encoding": {"x": {"field": "t0", "type": "quantitative", "scale": {"domain": [0, 120], "nice": false, "zero": false}, "axis": {"title": "seconds", "values": [0,20,40,60,80,100,120]}},
   "x2": {"field": "t1"},
   "y": {"field": "r", "type": "nominal", "scale": {"domain": ["TSH","DSO","MS7","MS6","MS5","MS4","MS3","MS2","MS1","SLD","MPO","HBW","NFC","DSC","DSI","REF"], "paddingInner": 0.06, "paddingOuter": 0.53}, "axis": {"title": "resources", "grid": true}},
   "color": {"field": "c", "type": "nominal", "scale": {"domain": ["g","r","b"], "range": ["#cccccc","#ff0000","#0000ff"]}, "legend": null}}},
 {"data": {"name": "ell"}, "transform": [{"filter": "datum.p == 'A1'"}], "mark": {"type": "point", "filled": false, "opacity": 1, "stroke": "#ffa500", "strokeWidth": 2.5, "strokeDash": [5, 3], "size": 3600},
  "encoding": {"x": {"field": "x", "type": "quantitative"}, "y": {"field": "y", "type": "quantitative", "scale": {"domain": [-1, 16], "nice": false, "zero": false}, "axis": null},
   "shape": {"field": "k", "type": "nominal", "scale": {"domain": ["c","s","o","t","f","w","T","B","m","O"], "range": ["M-0.48,0A0.48,0.45 0 1,0 0.48,0A0.48,0.45 0 1,0 -0.48,0Z","M-0.55,0A0.55,0.55 0 1,0 0.55,0A0.55,0.55 0 1,0 -0.55,0Z","M-0.61,0A0.61,0.6 0 1,0 0.61,0A0.61,0.6 0 1,0 -0.61,0Z","M-0.57,0A0.57,0.7 0 1,0 0.57,0A0.57,0.7 0 1,0 -0.57,0Z","M-0.62,0A0.62,0.5 0 1,0 0.62,0A0.62,0.5 0 1,0 -0.62,0Z","M-1,0A1,0.72 0 1,0 1,0A1,0.72 0 1,0 -1,0Z","M-0.68,0A0.68,1.28 0 1,0 0.68,0A0.68,1.28 0 1,0 -0.68,0Z","M-1.3,0A1.3,1.05 0 1,0 1.3,0A1.3,1.05 0 1,0 -1.3,0Z","M-0.65,0A0.65,0.9 0 1,0 0.65,0A0.65,0.9 0 1,0 -0.65,0Z","M-0.72,0A0.72,0.62 0 1,0 0.72,0A0.72,0.62 0 1,0 -0.72,0Z"]}, "legend": null}}},
 {"data": {"name": "ol"}, "transform": [{"filter": "datum.p == 'A1'"}], "mark": {"type": "line", "interpolate": "catmull-rom", "stroke": "#ffa500", "strokeWidth": 2.5, "strokeDash": [6, 4]},
  "encoding": {"x": {"field": "x", "type": "quantitative"}, "y": {"field": "y", "type": "quantitative", "scale": {"domain": [-1, 16], "nice": false, "zero": false}, "axis": null}, "detail": {"field": "id", "type": "nominal"}, "order": {"field": "o", "type": "quantitative"}}},
 {"data": {"name": "oh"}, "transform": [{"filter": "datum.p == 'A1'"}], "mark": {"type": "point", "filled": true, "opacity": 1, "fill": "#ffa500", "strokeWidth": 0, "size": 900, "shape": "M0,0L-0.5,0.85L0.5,0.85Z"},
  "encoding": {"x": {"field": "x", "type": "quantitative"}, "y": {"field": "y", "type": "quantitative", "scale": {"domain": [-1, 16], "nice": false, "zero": false}, "axis": null}, "angle": {"field": "a", "type": "quantitative", "scale": null}}}
]},
{"width": 366, "height": 272, "title": "(B)", "resolve": {"scale": {"y": "independent"}}, "layer": [
 {"data": {"name": "sq"}, "transform": [{"filter": "datum.p == 'B1'"}], "mark": {"type": "rect"},
  "encoding": {"x": {"field": "t0", "type": "quantitative", "scale": {"domain": [0, 85], "nice": false, "zero": false}, "axis": {"title": "seconds", "values": [0,10,20,30,40,50,60,70,80]}},
   "x2": {"field": "t1"},
   "y": {"field": "r", "type": "nominal", "scale": {"domain": ["TSH","DSO","MS7","MS6","MS5","MS4","MS3","MS2","MS1","SLD","MPO","HBW","NFC","DSC","DSI","REF"], "paddingInner": 0.06, "paddingOuter": 0.53}, "axis": {"title": "resources", "grid": true}},
   "color": {"field": "c", "type": "nominal", "scale": {"domain": ["g","r","b"], "range": ["#cccccc","#ff0000","#0000ff"]}, "legend": null}}},
 {"data": {"name": "ell"}, "transform": [{"filter": "datum.p == 'B1'"}], "mark": {"type": "point", "filled": false, "opacity": 1, "stroke": "#ffa500", "strokeWidth": 2.5, "strokeDash": [5, 3], "size": 3600},
  "encoding": {"x": {"field": "x", "type": "quantitative"}, "y": {"field": "y", "type": "quantitative", "scale": {"domain": [-1, 16], "nice": false, "zero": false}, "axis": null},
   "shape": {"field": "k", "type": "nominal", "scale": {"domain": ["c","s","o","t","f","w","T","B","m","O"], "range": ["M-0.48,0A0.48,0.45 0 1,0 0.48,0A0.48,0.45 0 1,0 -0.48,0Z","M-0.55,0A0.55,0.55 0 1,0 0.55,0A0.55,0.55 0 1,0 -0.55,0Z","M-0.61,0A0.61,0.6 0 1,0 0.61,0A0.61,0.6 0 1,0 -0.61,0Z","M-0.57,0A0.57,0.7 0 1,0 0.57,0A0.57,0.7 0 1,0 -0.57,0Z","M-0.62,0A0.62,0.5 0 1,0 0.62,0A0.62,0.5 0 1,0 -0.62,0Z","M-1,0A1,0.72 0 1,0 1,0A1,0.72 0 1,0 -1,0Z","M-0.68,0A0.68,1.28 0 1,0 0.68,0A0.68,1.28 0 1,0 -0.68,0Z","M-1.3,0A1.3,1.05 0 1,0 1.3,0A1.3,1.05 0 1,0 -1.3,0Z","M-0.65,0A0.65,0.9 0 1,0 0.65,0A0.65,0.9 0 1,0 -0.65,0Z","M-0.72,0A0.72,0.62 0 1,0 0.72,0A0.72,0.62 0 1,0 -0.72,0Z"]}, "legend": null}}},
 {"data": {"name": "ol"}, "transform": [{"filter": "datum.p == 'B1'"}], "mark": {"type": "line", "interpolate": "catmull-rom", "stroke": "#ffa500", "strokeWidth": 2.5, "strokeDash": [6, 4]},
  "encoding": {"x": {"field": "x", "type": "quantitative"}, "y": {"field": "y", "type": "quantitative", "scale": {"domain": [-1, 16], "nice": false, "zero": false}, "axis": null}, "detail": {"field": "id", "type": "nominal"}, "order": {"field": "o", "type": "quantitative"}}},
 {"data": {"name": "oh"}, "transform": [{"filter": "datum.p == 'B1'"}], "mark": {"type": "point", "filled": true, "opacity": 1, "fill": "#ffa500", "strokeWidth": 0, "size": 900, "shape": "M0,0L-0.5,0.85L0.5,0.85Z"},
  "encoding": {"x": {"field": "x", "type": "quantitative"}, "y": {"field": "y", "type": "quantitative", "scale": {"domain": [-1, 16], "nice": false, "zero": false}, "axis": null}, "angle": {"field": "a", "type": "quantitative", "scale": null}}}
]},
{"width": 366, "height": 272, "title": "(C)", "resolve": {"scale": {"y": "independent"}}, "layer": [
 {"data": {"name": "sq"}, "transform": [{"filter": "datum.p == 'C1'"}], "mark": {"type": "rect"},
  "encoding": {"x": {"field": "t0", "type": "quantitative", "scale": {"domain": [0, 160], "nice": false, "zero": false}, "axis": {"title": "seconds", "values": [0,20,40,60,80,100,120,140,160]}},
   "x2": {"field": "t1"},
   "y": {"field": "r", "type": "nominal", "scale": {"domain": ["TSH","DSO","MS7","MS6","MS5","MS4","MS3","MS2","MS1","SLD","MPO","HBW","NFC","DSC","DSI","REF"], "paddingInner": 0.06, "paddingOuter": 0.53}, "axis": {"title": "resources", "grid": true}},
   "color": {"field": "c", "type": "nominal", "scale": {"domain": ["g","r","b"], "range": ["#cccccc","#ff0000","#0000ff"]}, "legend": null}}},
 {"data": {"name": "ell"}, "transform": [{"filter": "datum.p == 'C1'"}], "mark": {"type": "point", "filled": false, "opacity": 1, "stroke": "#ffa500", "strokeWidth": 2.5, "strokeDash": [5, 3], "size": 3600},
  "encoding": {"x": {"field": "x", "type": "quantitative"}, "y": {"field": "y", "type": "quantitative", "scale": {"domain": [-1, 16], "nice": false, "zero": false}, "axis": null},
   "shape": {"field": "k", "type": "nominal", "scale": {"domain": ["c","s","o","t","f","w","T","B","m","O"], "range": ["M-0.48,0A0.48,0.45 0 1,0 0.48,0A0.48,0.45 0 1,0 -0.48,0Z","M-0.55,0A0.55,0.55 0 1,0 0.55,0A0.55,0.55 0 1,0 -0.55,0Z","M-0.61,0A0.61,0.6 0 1,0 0.61,0A0.61,0.6 0 1,0 -0.61,0Z","M-0.57,0A0.57,0.7 0 1,0 0.57,0A0.57,0.7 0 1,0 -0.57,0Z","M-0.62,0A0.62,0.5 0 1,0 0.62,0A0.62,0.5 0 1,0 -0.62,0Z","M-1,0A1,0.72 0 1,0 1,0A1,0.72 0 1,0 -1,0Z","M-0.68,0A0.68,1.28 0 1,0 0.68,0A0.68,1.28 0 1,0 -0.68,0Z","M-1.3,0A1.3,1.05 0 1,0 1.3,0A1.3,1.05 0 1,0 -1.3,0Z","M-0.65,0A0.65,0.9 0 1,0 0.65,0A0.65,0.9 0 1,0 -0.65,0Z","M-0.72,0A0.72,0.62 0 1,0 0.72,0A0.72,0.62 0 1,0 -0.72,0Z"]}, "legend": null}}},
 {"data": {"name": "ol"}, "transform": [{"filter": "datum.p == 'C1'"}], "mark": {"type": "line", "interpolate": "catmull-rom", "stroke": "#ffa500", "strokeWidth": 2.5, "strokeDash": [6, 4]},
  "encoding": {"x": {"field": "x", "type": "quantitative"}, "y": {"field": "y", "type": "quantitative", "scale": {"domain": [-1, 16], "nice": false, "zero": false}, "axis": null}, "detail": {"field": "id", "type": "nominal"}, "order": {"field": "o", "type": "quantitative"}}},
 {"data": {"name": "oh"}, "transform": [{"filter": "datum.p == 'C1'"}], "mark": {"type": "point", "filled": true, "opacity": 1, "fill": "#ffa500", "strokeWidth": 0, "size": 900, "shape": "M0,0L-0.5,0.85L0.5,0.85Z"},
  "encoding": {"x": {"field": "x", "type": "quantitative"}, "y": {"field": "y", "type": "quantitative", "scale": {"domain": [-1, 16], "nice": false, "zero": false}, "axis": null}, "angle": {"field": "a", "type": "quantitative", "scale": null}}}
]},
{"width": 366, "height": 272, "resolve": {"scale": {"x": "independent", "y": "independent"}}, "layer": [
 {"data": {"name": "sq"}, "transform": [{"filter": "datum.p == 'A2'"}], "mark": {"type": "rect"},
  "encoding": {"x": {"field": "t0", "type": "quantitative", "scale": {"domain": [0, 115], "nice": false, "zero": false}, "axis": {"title": "seconds", "values": [0,20,40,60,80,100]}},
   "x2": {"field": "t1"},
   "y": {"field": "r", "type": "nominal", "scale": {"domain": ["TSH","DSO","MS7","MS6","MS5","MS4","MS3","MS2","MS1","SLD","MPO","HBW","NFC","DSC","DSI","REF"], "paddingInner": 0.06, "paddingOuter": 0.53}, "axis": {"title": "resources", "grid": true}},
   "color": {"field": "c", "type": "nominal", "scale": {"domain": ["g","r","b"], "range": ["#cccccc","#ff0000","#0000ff"]}, "legend": null}}},
 {"data": {"name": "ell"}, "transform": [{"filter": "datum.p == 'A2'"}], "mark": {"type": "point", "filled": false, "opacity": 1, "stroke": "#ffa500", "strokeWidth": 2.5, "strokeDash": [5, 3], "size": 3600},
  "encoding": {"x": {"field": "x", "type": "quantitative", "scale": {"domain": [0, 115], "nice": false, "zero": false}, "axis": null}, "y": {"field": "y", "type": "quantitative", "scale": {"domain": [-1, 16], "nice": false, "zero": false}, "axis": null},
   "shape": {"field": "k", "type": "nominal", "scale": {"domain": ["c","s","o","t","f","w","T","B","m","O"], "range": ["M-0.48,0A0.48,0.45 0 1,0 0.48,0A0.48,0.45 0 1,0 -0.48,0Z","M-0.55,0A0.55,0.55 0 1,0 0.55,0A0.55,0.55 0 1,0 -0.55,0Z","M-0.61,0A0.61,0.6 0 1,0 0.61,0A0.61,0.6 0 1,0 -0.61,0Z","M-0.57,0A0.57,0.7 0 1,0 0.57,0A0.57,0.7 0 1,0 -0.57,0Z","M-0.62,0A0.62,0.5 0 1,0 0.62,0A0.62,0.5 0 1,0 -0.62,0Z","M-1,0A1,0.72 0 1,0 1,0A1,0.72 0 1,0 -1,0Z","M-0.68,0A0.68,1.28 0 1,0 0.68,0A0.68,1.28 0 1,0 -0.68,0Z","M-1.3,0A1.3,1.05 0 1,0 1.3,0A1.3,1.05 0 1,0 -1.3,0Z","M-0.65,0A0.65,0.9 0 1,0 0.65,0A0.65,0.9 0 1,0 -0.65,0Z","M-0.72,0A0.72,0.62 0 1,0 0.72,0A0.72,0.62 0 1,0 -0.72,0Z"]}, "legend": null}}},
 {"data": {"name": "lab"}, "transform": [{"filter": "datum.p == 'A2'"}], "mark": {"type": "text", "font": "DejaVu Sans", "fontSize": 15, "color": "#000000", "baseline": "middle"},
  "encoding": {"x": {"field": "x", "type": "quantitative", "scale": {"domain": [0, 115], "nice": false, "zero": false}, "axis": null}, "y": {"field": "y", "type": "quantitative", "scale": {"domain": [-1, 16], "nice": false, "zero": false}, "axis": null}, "text": {"field": "t"}}},
 {"data": {"name": "brace"}, "mark": {"type": "line", "interpolate": "catmull-rom", "stroke": "#000000", "strokeWidth": 1.5},
  "encoding": {"x": {"field": "x", "type": "quantitative", "scale": {"domain": [-0.1946, 4.258], "nice": false, "zero": false}, "axis": null},
   "y": {"field": "y", "type": "quantitative", "scale": {"domain": [-3.107, -1.164], "nice": false, "zero": false, "reverse": true}, "axis": null},
   "detail": {"field": "id", "type": "nominal"}, "order": {"field": "o", "type": "quantitative"}}},
 {"data": {"name": "xe"}, "mark": {"type": "line", "interpolate": "catmull-rom", "stroke": "#000000", "strokeWidth": 1.4, "strokeDash": [5, 3.4]},
  "encoding": {"x": {"field": "x", "type": "quantitative", "scale": {"domain": [-0.1946, 4.258], "nice": false, "zero": false}, "axis": null},
   "y": {"field": "y", "type": "quantitative", "scale": {"domain": [-3.107, -1.164], "nice": false, "zero": false, "reverse": true}, "axis": null},
   "detail": {"field": "id", "type": "nominal"}, "order": {"field": "o", "type": "quantitative"}}},
 {"data": {"name": "arcs"}, "transform": [{"filter": "datum.s == 'u'"}], "mark": {"type": "arc", "theta": -1.5708, "theta2": 1.5708, "radius": 33.5, "radius2": 33.5, "filled": false, "stroke": "#000000", "strokeWidth": 1.5},
  "encoding": {"x": {"field": "x", "type": "quantitative", "scale": {"domain": [-0.1946, 4.258], "nice": false, "zero": false}, "axis": null},
   "y": {"field": "y", "type": "quantitative", "scale": {"domain": [-3.107, -1.164], "nice": false, "zero": false, "reverse": true}, "axis": null}}},
 {"data": {"name": "arcs"}, "transform": [{"filter": "datum.s == 'n'"}], "mark": {"type": "arc", "theta": 1.5708, "theta2": 4.7124, "radius": 33.5, "radius2": 33.5, "filled": false, "stroke": "#000000", "strokeWidth": 1.5},
  "encoding": {"x": {"field": "x", "type": "quantitative", "scale": {"domain": [-0.1946, 4.258], "nice": false, "zero": false}, "axis": null},
   "y": {"field": "y", "type": "quantitative", "scale": {"domain": [-3.107, -1.164], "nice": false, "zero": false, "reverse": true}, "axis": null}}},
 {"data": {"name": "heads"}, "mark": {"type": "point", "shape": "M0,0L-0.5,0.9L0.5,0.9Z", "size": 676, "filled": true, "fill": "#000000", "opacity": 1, "strokeWidth": 0},
  "encoding": {"x": {"field": "x", "type": "quantitative", "scale": {"domain": [-0.1946, 4.258], "nice": false, "zero": false}, "axis": null},
   "y": {"field": "y", "type": "quantitative", "scale": {"domain": [-3.107, -1.164], "nice": false, "zero": false, "reverse": true}, "axis": null},
   "angle": {"field": "a", "type": "quantitative", "scale": null}}},
 {"data": {"name": "nodes"}, "mark": {"type": "point", "shape": "M-0.695,-1L0.695,-1Q0.915,-1 0.915,-0.78L0.915,0.78Q0.915,1 0.695,1L-0.695,1Q-0.915,1 -0.915,0.78L-0.915,-0.78Q-0.915,-1 -0.695,-1Z", "size": 2209, "filled": true, "opacity": 1, "strokeWidth": 1.5},
  "encoding": {"x": {"field": "x", "type": "quantitative", "scale": {"domain": [-0.1946, 4.258], "nice": false, "zero": false}, "axis": null},
   "y": {"field": "y", "type": "quantitative", "scale": {"domain": [-3.107, -1.164], "nice": false, "zero": false, "reverse": true}, "axis": null},
   "fill": {"field": "t", "type": "nominal", "scale": {"domain": ["g","r","b","w"], "range": ["#d9d9d9","#ff0000","#0000ff","#ffffff"]}, "legend": null},
   "stroke": {"field": "t", "type": "nominal", "scale": {"domain": ["g","r","b","w"], "range": ["#d9d9d9","#ff0000","#0000ff","#000000"]}, "legend": null}}},
 {"data": {"name": "nodes"}, "transform": [{"filter": "datum.t == 'g' || datum.t == 'w'"}], "mark": {"type": "text", "font": "Liberation Sans", "fontWeight": "bold", "fontSize": 13.5, "baseline": "middle", "color": "#000000"},
  "encoding": {"x": {"field": "x", "type": "quantitative", "scale": {"domain": [-0.1946, 4.258], "nice": false, "zero": false}, "axis": null},
   "y": {"field": "y", "type": "quantitative", "scale": {"domain": [-3.107, -1.164], "nice": false, "zero": false, "reverse": true}, "axis": null}, "text": {"field": "n"}}},
 {"data": {"name": "nodes"}, "transform": [{"filter": "datum.t == 'r' || datum.t == 'b'"}], "mark": {"type": "text", "font": "Liberation Sans", "fontWeight": "bold", "fontSize": 13.5, "baseline": "middle", "color": "#ffffff"},
  "encoding": {"x": {"field": "x", "type": "quantitative", "scale": {"domain": [-0.1946, 4.258], "nice": false, "zero": false}, "axis": null},
   "y": {"field": "y", "type": "quantitative", "scale": {"domain": [-3.107, -1.164], "nice": false, "zero": false, "reverse": true}, "axis": null}, "text": {"field": "n"}}},
 {"data": {"name": "elab"}, "mark": {"type": "text", "font": "Liberation Sans", "fontSize": 17, "baseline": "middle", "color": "#000000"},
  "encoding": {"x": {"field": "x", "type": "quantitative", "scale": {"domain": [-0.1946, 4.258], "nice": false, "zero": false}, "axis": null},
   "y": {"field": "y", "type": "quantitative", "scale": {"domain": [-3.107, -1.164], "nice": false, "zero": false, "reverse": true}, "axis": null}, "text": {"field": "t"}}}
]},
{"width": 366, "height": 272, "resolve": {"scale": {"y": "independent"}}, "layer": [
 {"data": {"name": "sq"}, "transform": [{"filter": "datum.p == 'B2'"}], "mark": {"type": "rect"},
  "encoding": {"x": {"field": "t0", "type": "quantitative", "scale": {"domain": [0, 80], "nice": false, "zero": false}, "axis": {"title": "seconds", "values": [0,10,20,30,40,50,60,70,80]}},
   "x2": {"field": "t1"},
   "y": {"field": "r", "type": "nominal", "scale": {"domain": ["TSH","DSO","MS7","MS6","MS5","MS4","MS3","MS2","MS1","SLD","MPO","HBW","NFC","DSC","DSI","REF"], "paddingInner": 0.06, "paddingOuter": 0.53}, "axis": {"title": "resources", "grid": true}},
   "color": {"field": "c", "type": "nominal", "scale": {"domain": ["g","r","b"], "range": ["#cccccc","#ff0000","#0000ff"]}, "legend": null}}},
 {"data": {"name": "ell"}, "transform": [{"filter": "datum.p == 'B2'"}], "mark": {"type": "point", "filled": false, "opacity": 1, "stroke": "#ffa500", "strokeWidth": 2.5, "strokeDash": [5, 3], "size": 3600},
  "encoding": {"x": {"field": "x", "type": "quantitative"}, "y": {"field": "y", "type": "quantitative", "scale": {"domain": [-1, 16], "nice": false, "zero": false}, "axis": null},
   "shape": {"field": "k", "type": "nominal", "scale": {"domain": ["c","s","o","t","f","w","T","B","m","O"], "range": ["M-0.48,0A0.48,0.45 0 1,0 0.48,0A0.48,0.45 0 1,0 -0.48,0Z","M-0.55,0A0.55,0.55 0 1,0 0.55,0A0.55,0.55 0 1,0 -0.55,0Z","M-0.61,0A0.61,0.6 0 1,0 0.61,0A0.61,0.6 0 1,0 -0.61,0Z","M-0.57,0A0.57,0.7 0 1,0 0.57,0A0.57,0.7 0 1,0 -0.57,0Z","M-0.62,0A0.62,0.5 0 1,0 0.62,0A0.62,0.5 0 1,0 -0.62,0Z","M-1,0A1,0.72 0 1,0 1,0A1,0.72 0 1,0 -1,0Z","M-0.68,0A0.68,1.28 0 1,0 0.68,0A0.68,1.28 0 1,0 -0.68,0Z","M-1.3,0A1.3,1.05 0 1,0 1.3,0A1.3,1.05 0 1,0 -1.3,0Z","M-0.65,0A0.65,0.9 0 1,0 0.65,0A0.65,0.9 0 1,0 -0.65,0Z","M-0.72,0A0.72,0.62 0 1,0 0.72,0A0.72,0.62 0 1,0 -0.72,0Z"]}, "legend": null}}},
 {"data": {"name": "lab"}, "transform": [{"filter": "datum.p == 'B2'"}], "mark": {"type": "text", "font": "DejaVu Sans", "fontSize": 15, "color": "#000000", "baseline": "middle"},
  "encoding": {"x": {"field": "x", "type": "quantitative"}, "y": {"field": "y", "type": "quantitative", "scale": {"domain": [-1, 16], "nice": false, "zero": false}, "axis": null}, "text": {"field": "t"}}}
]},
{"width": 366, "height": 272, "resolve": {"scale": {"y": "independent"}}, "layer": [
 {"data": {"name": "sq"}, "transform": [{"filter": "datum.p == 'C2'"}], "mark": {"type": "rect"},
  "encoding": {"x": {"field": "t0", "type": "quantitative", "scale": {"domain": [0, 140], "nice": false, "zero": false}, "axis": {"title": "seconds", "values": [0,20,40,60,80,100,120,140]}},
   "x2": {"field": "t1"},
   "y": {"field": "r", "type": "nominal", "scale": {"domain": ["TSH","DSO","MS7","MS6","MS5","MS4","MS3","MS2","MS1","SLD","MPO","HBW","NFC","DSC","DSI","REF"], "paddingInner": 0.06, "paddingOuter": 0.53}, "axis": {"title": "resources", "grid": true}},
   "color": {"field": "c", "type": "nominal", "scale": {"domain": ["g","r","b"], "range": ["#cccccc","#ff0000","#0000ff"]}, "legend": null}}},
 {"data": {"name": "ell"}, "transform": [{"filter": "datum.p == 'C2'"}], "mark": {"type": "point", "filled": false, "opacity": 1, "stroke": "#ffa500", "strokeWidth": 2.5, "strokeDash": [5, 3], "size": 3600},
  "encoding": {"x": {"field": "x", "type": "quantitative"}, "y": {"field": "y", "type": "quantitative", "scale": {"domain": [-1, 16], "nice": false, "zero": false}, "axis": null},
   "shape": {"field": "k", "type": "nominal", "scale": {"domain": ["c","s","o","t","f","w","T","B","m","O"], "range": ["M-0.48,0A0.48,0.45 0 1,0 0.48,0A0.48,0.45 0 1,0 -0.48,0Z","M-0.55,0A0.55,0.55 0 1,0 0.55,0A0.55,0.55 0 1,0 -0.55,0Z","M-0.61,0A0.61,0.6 0 1,0 0.61,0A0.61,0.6 0 1,0 -0.61,0Z","M-0.57,0A0.57,0.7 0 1,0 0.57,0A0.57,0.7 0 1,0 -0.57,0Z","M-0.62,0A0.62,0.5 0 1,0 0.62,0A0.62,0.5 0 1,0 -0.62,0Z","M-1,0A1,0.72 0 1,0 1,0A1,0.72 0 1,0 -1,0Z","M-0.68,0A0.68,1.28 0 1,0 0.68,0A0.68,1.28 0 1,0 -0.68,0Z","M-1.3,0A1.3,1.05 0 1,0 1.3,0A1.3,1.05 0 1,0 -1.3,0Z","M-0.65,0A0.65,0.9 0 1,0 0.65,0A0.65,0.9 0 1,0 -0.65,0Z","M-0.72,0A0.72,0.62 0 1,0 0.72,0A0.72,0.62 0 1,0 -0.72,0Z"]}, "legend": null}}},
 {"data": {"name": "lab"}, "transform": [{"filter": "datum.p == 'C2'"}], "mark": {"type": "text", "font": "DejaVu Sans", "fontSize": 15, "color": "#000000", "baseline": "middle"},
  "encoding": {"x": {"field": "x", "type": "quantitative"}, "y": {"field": "y", "type": "quantitative", "scale": {"domain": [-1, 16], "nice": false, "zero": false}, "axis": null}, "text": {"field": "t"}}}
]}
]
}
